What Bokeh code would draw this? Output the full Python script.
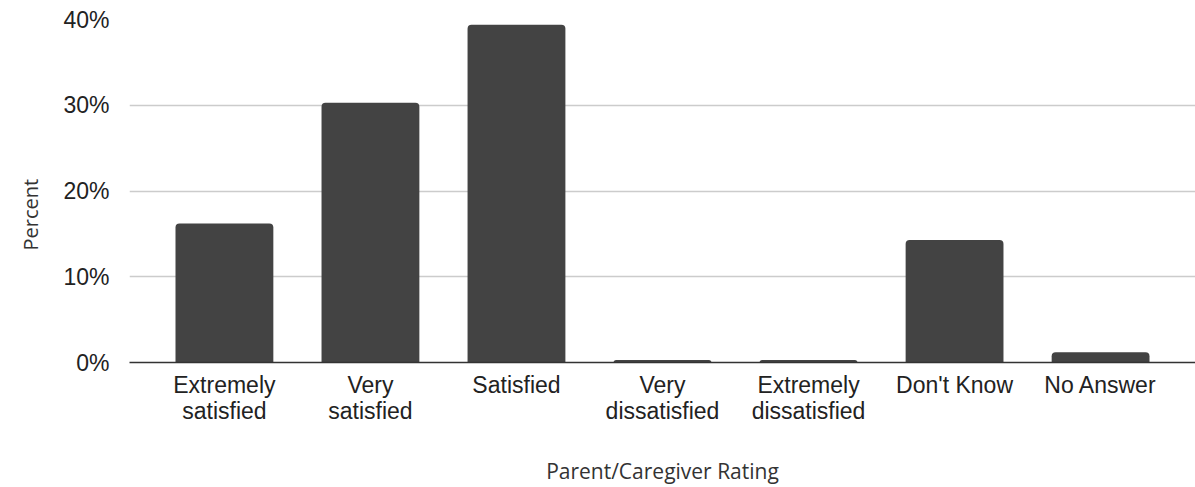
from bokeh.plotting import figure
from bokeh.models import FactorRange, Range1d, FixedTicker, PrintfTickFormatter, ColumnDataSource, Title
from bokeh.embed import file_html
from bokeh.resources import INLINE

# Survey responses: share of parents/caregivers per rating (percent)
ratings = ["Extremely\nsatisfied", "Very\nsatisfied", "Satisfied", "Very\ndissatisfied",
           "Extremely\ndissatisfied", "Don't Know", "No Answer"]
percent = [16.2, 30.3, 39.4, 0.3, 0.3, 14.3, 1.2]
y_ticks = [0, 10, 20, 30, 40]

source = ColumnDataSource(data=dict(rating=ratings, percent=percent))

p = figure(
    width=1195, height=487,
    x_range=FactorRange(*ratings, range_padding=0.15, range_padding_units="absolute"),
    y_range=Range1d(0, 40),
    output_backend="svg", toolbar_location=None,
    min_border_left=129, min_border_right=0, min_border_top=19, min_border_bottom=125,
)

p.vbar(x="rating", top="percent", width=0.67, source=source,
       fill_color="#434343", line_color=None, border_radius=(4, 4, 0, 0))

p.outline_line_color = None
p.background_fill_color = "white"
p.border_fill_color = "white"

# y axis
p.yaxis.ticker = FixedTicker(ticks=y_ticks)
p.yaxis.formatter = PrintfTickFormatter(format="%d%%")
p.yaxis.axis_line_color = None
p.yaxis.major_tick_line_color = None
p.yaxis.minor_tick_line_color = None
p.yaxis.major_label_standoff = 14
p.yaxis.major_label_text_font = "Liberation Sans"
p.yaxis.major_label_text_font_size = "23px"
p.yaxis.major_label_text_color = "#222222"

# y axis title as a side title, starting a fixed distance above the frame bottom
p.add_layout(Title(text="Percent", align="left", offset=112, standoff=30,
                   vertical_align="top",
                   text_font="Open Sans", text_font_size="20px", text_font_style="normal",
                   text_color="#333333"), "left")

p.ygrid.ticker = FixedTicker(ticks=y_ticks)
p.ygrid.grid_line_color = "#cccccc"
p.ygrid.grid_line_width = 1.5
p.xgrid.grid_line_color = None

# x axis
p.xaxis.axis_line_color = "#333333"
p.xaxis.axis_line_width = 1.5
p.xaxis.major_tick_line_color = None
p.xaxis.minor_tick_line_color = None
p.xaxis.major_label_standoff = 3
p.xaxis.major_label_text_font = "Liberation Sans"
p.xaxis.major_label_text_font_size = "23px"
p.xaxis.major_label_text_line_height = 1.0
p.xaxis.major_label_text_color = "#222222"
p.xaxis.axis_label = "Parent/Caregiver Rating"
p.xaxis.axis_label_text_font = "Open Sans"
p.xaxis.axis_label_text_font_size = "21px"
p.xaxis.axis_label_text_font_style = "normal"
p.xaxis.axis_label_text_color = "#333333"
p.xaxis.axis_label_standoff = 30

open("out.html", "w").write(file_html(p, INLINE))
